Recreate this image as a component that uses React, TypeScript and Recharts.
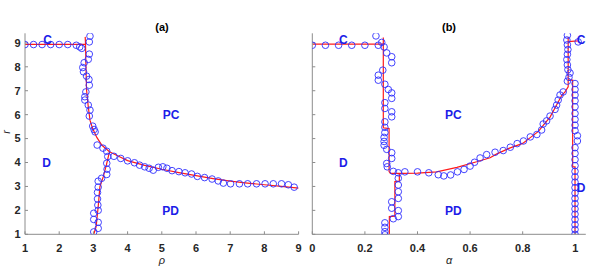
import { ComposedChart, Line, Scatter, XAxis, YAxis, ReferenceDot } from "recharts"

const BLUE = "#2f2fff"
const LABEL_BLUE = "#1c1ce8"
const RED = "#ff1a1a"
const AXIS = "#8c8c8c"
const TEXT = "#262626"
const FONT = "'Liberation Sans', Arial, sans-serif"

const Y_TICKS = [1, 2, 3, 4, 5, 6, 7, 8, 9]
const A_X_TICKS = [1, 2, 3, 4, 5, 6, 7, 8, 9]
const B_X_TICKS = [0, 0.2, 0.4, 0.6, 0.8, 1]

// ---- panel (a): r vs rho ----
const aMarkC = [[1, 8.93], [1.25, 8.93], [1.5, 8.93], [1.75, 8.93], [2.0, 8.93], [2.25, 8.93], [2.5, 8.9], [2.6, 8.83], [2.66, 8.77]]
const aMarkUpper = [
  [2.9, 9.28], [2.88, 9.04], [2.88, 8.53], [2.85, 8.31], [2.73, 8.17], [2.69, 7.97], [2.71, 7.79], [2.8, 7.61],
  [2.87, 7.47], [2.88, 7.23], [2.78, 6.95], [2.75, 6.75], [2.75, 6.61], [2.85, 6.4], [2.9, 6.19], [2.88, 5.94],
  [2.98, 5.52], [3.02, 5.38], [3.05, 5.28],
]
const aMarkLower = [
  [3.11, 4.73], [3.28, 4.6], [3.39, 4.47], [3.42, 4.25], [3.39, 3.97], [3.4, 3.72], [3.39, 3.5], [3.24, 3.34],
  [3.14, 3.22], [3.14, 2.97], [3.12, 2.75], [3.12, 2.48], [3.13, 2.22], [3.14, 2.0], [3.01, 1.88], [3.01, 1.62],
  [3.14, 1.5], [3.14, 1.25], [3.01, 1.1],
]
const aMarkCurve = [
  [3.6, 4.26], [3.8, 4.17], [4.0, 4.07], [4.2, 3.99], [4.35, 3.89], [4.5, 3.82], [4.63, 3.76], [4.75, 3.68],
  [4.9, 3.8], [5.03, 3.82], [5.15, 3.76], [5.3, 3.66], [5.5, 3.62], [5.68, 3.57], [5.87, 3.52], [6.04, 3.42],
  [6.25, 3.37], [6.47, 3.31], [6.65, 3.23], [6.8, 3.14], [7.01, 3.11], [7.27, 3.11], [7.51, 3.11], [7.77, 3.11],
  [8.02, 3.11], [8.26, 3.11], [8.5, 3.11], [8.7, 3.07], [8.87, 2.97],
]
const aRedC = [[1, 8.94], [2.77, 8.94]]
const aRedMain = [
  [2.76, 9.25], [2.77, 8.94], [2.78, 8.14], [2.8, 7.03], [2.85, 6.33], [2.9, 5.77], [2.97, 5.45], [3.1, 5.05],
  [3.25, 4.72], [3.47, 4.45], [3.75, 4.25], [4.0, 4.08], [4.5, 3.88], [5.0, 3.72], [5.5, 3.58], [6.0, 3.45],
  [6.5, 3.33], [7.0, 3.22], [7.5, 3.14], [8.0, 3.07], [8.5, 3.0], [9.0, 2.93],
]
const aRedLower = [[3.47, 4.45], [3.38, 3.9], [3.29, 3.41], [3.19, 2.99], [3.14, 2.15], [3.08, 1.32], [3.01, 1.0]]

// ---- panel (b): r vs alpha ----
const bMarkC = [[0, 8.9], [0.05, 8.9], [0.1, 8.9], [0.15, 8.9], [0.2, 8.9], [0.251, 8.9], [1.011, 9.04]]
const bMarkLeft = [
  [0.242, 9.29], [0.264, 9.02], [0.273, 8.83], [0.283, 8.58], [0.302, 8.42], [0.302, 8.17], [0.268, 7.86],
  [0.251, 7.65], [0.251, 7.44], [0.276, 7.27], [0.289, 7.05], [0.302, 6.91], [0.302, 6.68], [0.276, 6.5],
  [0.276, 6.26], [0.302, 6.12], [0.302, 5.91], [0.276, 5.7], [0.276, 5.47], [0.276, 5.25], [0.273, 5.05],
  [0.273, 4.88], [0.273, 4.72], [0.283, 4.55], [0.302, 4.41], [0.302, 4.17], [0.283, 3.96], [0.285, 3.82],
  [0.308, 3.63], [0.327, 3.57], [0.327, 3.34], [0.327, 3.06], [0.327, 2.78], [0.327, 2.5], [0.302, 2.36],
  [0.302, 2.09], [0.327, 1.99], [0.327, 1.74], [0.308, 1.65], [0.276, 1.48], [0.276, 1.29], [0.276, 1.11],
  [0.276, 0.98],
]
const bMarkCurve = [
  [0.352, 3.61], [0.4, 3.61], [0.443, 3.57], [0.479, 3.49], [0.5, 3.44], [0.526, 3.48], [0.552, 3.61],
  [0.577, 3.71], [0.6, 3.85], [0.617, 4.01], [0.638, 4.19], [0.663, 4.33], [0.695, 4.43], [0.726, 4.5],
  [0.753, 4.64], [0.779, 4.79], [0.803, 4.9], [0.829, 5.07], [0.854, 5.17], [0.872, 5.36], [0.878, 5.61],
  [0.891, 5.74], [0.904, 5.94], [0.923, 6.22], [0.929, 6.4], [0.935, 6.61], [0.942, 6.82], [0.954, 6.95],
]
const bMarkRightTop = [
  [0.97, 9.32], [0.968, 9.12], [0.97, 8.92], [0.972, 8.72], [0.97, 8.52], [0.968, 8.3], [0.97, 8.08],
  [0.972, 7.88], [0.98, 7.74], [0.976, 7.56], [0.97, 7.4],
]
const bMarkRightLow = [
  [0.999, 7.3], [0.999, 7.05], [0.999, 6.82], [0.999, 6.58], [0.999, 6.33], [0.999, 6.05], [0.999, 5.8],
  [0.999, 5.56], [0.999, 5.33], [1.008, 5.12], [1.008, 4.9], [0.999, 4.62], [0.999, 4.38], [0.999, 4.12],
  [0.999, 3.87], [0.999, 3.63], [0.999, 3.4], [0.999, 3.18], [0.999, 2.95], [0.999, 2.72], [0.999, 2.5],
  [0.999, 2.28], [0.999, 2.06], [0.999, 1.84], [0.999, 1.62], [0.999, 1.4], [0.999, 1.2], [0.999, 1.0],
]
const bRedC = [[0, 8.95], [0.27, 8.95]]
const bRedMain = [
  [0.27, 9.22], [0.27, 5.45], [0.292, 5.42], [0.292, 3.62], [0.297, 3.55], [0.34, 3.55], [0.4, 3.56],
  [0.473, 3.61], [0.55, 3.8], [0.625, 4.03], [0.676, 4.2], [0.7, 4.35], [0.75, 4.6], [0.8, 4.8], [0.83, 5.05],
  [0.86, 5.3], [0.878, 5.55], [0.904, 5.9], [0.929, 6.4], [0.948, 6.8], [0.961, 6.95], [0.973, 7.16], [0.973, 9.25],
]
const bRedTopC = [[0.973, 9.05], [1.01, 9.08]]
const bRedRight = [[0.973, 7.44], [0.99, 7.44], [0.99, 3.82], [0.999, 3.82], [0.999, 1.0]]
const bRedLower = [[0.331, 3.55], [0.331, 3.22], [0.314, 3.2], [0.314, 1.76], [0.293, 1.74], [0.293, 1.0]]

const aRegions = [["C", 1.66, 9.15], ["PC", 5.27, 5.98], ["D", 1.63, 3.99], ["PD", 5.26, 1.97]]
const bRegions = [["C", 0.118, 9.15], ["PC", 0.536, 5.98], ["D", 0.118, 3.99], ["PD", 0.536, 1.97], ["C", 1.022, 9.15], ["D", 1.022, 2.96]]

const pts = (a: number[][]) => a.map(([x, y]) => ({ x, y }))

const Ring = (p: any) => (
  <circle cx={p.cx} cy={p.cy} r={3.3} fill="none" stroke={BLUE} strokeWidth={0.9} />
)

const tickStyle = { fill: TEXT, fontSize: 11, fontWeight: "bold", fontFamily: FONT }
const blank = () => ""

function Panel({ width, yAxisWidth, rightMargin, xDomain, xTicks, title, titleX, xLabel, showYLabels, markers, lines, regions }: any) {
  return (
    <div style={{ position: "relative", width, height: 267 }}>
      <div
        style={{
          position: "absolute", left: titleX - 20, width: 40, top: 21, textAlign: "center",
          fontSize: 11, fontWeight: "bold", color: "#000", fontFamily: FONT, lineHeight: "13px",
        }}
      >
        {title}
      </div>
      <ComposedChart
        width={width}
        height={267}
        margin={{ top: 33.3, right: rightMargin, bottom: 0, left: 0 }}
        style={{ overflow: "visible" }}
      >
        <XAxis
          xAxisId="b"
          type="number"
          dataKey="x"
          domain={xDomain}
          ticks={xTicks}
          interval={0}
          allowDataOverflow
          height={32.7}
          tickSize={-3}
          tickMargin={12.5}
          stroke={AXIS}
          tick={tickStyle}
          label={{ value: xLabel, position: "insideBottom", offset: 3.5, fontSize: 11, fontStyle: "italic", fill: TEXT, fontFamily: FONT }}
        />
        <XAxis
          xAxisId="t"
          orientation="top"
          type="number"
          dataKey="x"
          domain={xDomain}
          ticks={xTicks}
          interval={0}
          allowDataOverflow
          height={0}
          tickSize={-3}
          stroke={AXIS}
          tickFormatter={blank}
        />
        <YAxis
          yAxisId="l"
          type="number"
          dataKey="y"
          domain={[1, 9.4]}
          ticks={Y_TICKS}
          interval={0}
          allowDataOverflow
          width={yAxisWidth}
          tickSize={-3}
          tickMargin={7.5}
          stroke={AXIS}
          tick={tickStyle}
          tickFormatter={showYLabels ? undefined : blank}
          label={showYLabels ? { value: "r", angle: -90, position: "insideLeft", offset: 6, fontSize: 11, fontStyle: "italic", fill: TEXT, fontFamily: FONT } : undefined}
        />
        <YAxis
          yAxisId="r"
          orientation="right"
          type="number"
          dataKey="y"
          domain={[1, 9.4]}
          ticks={Y_TICKS}
          interval={0}
          allowDataOverflow
          width={0}
          tickSize={-3}
          stroke={AXIS}
          tickFormatter={blank}
        />
        {markers.map((m: number[][], i: number) => (
          <Scatter key={"m" + i} xAxisId="b" yAxisId="l" data={pts(m)} shape={Ring} isAnimationActive={false} />
        ))}
        {lines.map((l: number[][], i: number) => (
          <Line
            key={"l" + i}
            xAxisId="b"
            yAxisId="l"
            data={pts(l)}
            dataKey="y"
            type="linear"
            stroke={RED}
            strokeWidth={1.2}
            dot={false}
            activeDot={false}
            isAnimationActive={false}
          />
        ))}
        {regions.map(([t, x, y]: any, i: number) => (
          <ReferenceDot
            key={"r" + i}
            xAxisId="b"
            yAxisId="l"
            x={x}
            y={y}
            r={0}
            fill="none"
            stroke="none"
            ifOverflow="visible"
            label={{ value: t, position: "center", fill: LABEL_BLUE, fontSize: 12, fontWeight: "bold", fontFamily: FONT }}
          />
        ))}
      </ComposedChart>
    </div>
  )
}

export default function App() {
  return (
    <div style={{ position: "absolute", left: 0, top: 0, width: 598, height: 267, background: "#fff", fontFamily: FONT }}>
      <div style={{ position: "absolute", left: 0, top: 0 }}>
        <Panel
          width={304}
          yAxisWidth={25}
          rightMargin={5.4}
          xDomain={[1, 9]}
          xTicks={A_X_TICKS}
          title="(a)"
          titleX={162}
          xLabel="ρ"
          showYLabels
          markers={[aMarkC, aMarkUpper, aMarkLower, aMarkCurve]}
          lines={[aRedC, aRedMain, aRedLower]}
          regions={aRegions}
        />
      </div>
      <div style={{ position: "absolute", left: 304, top: 0 }}>
        <Panel
          width={294}
          yAxisWidth={8.3}
          rightMargin={12.2}
          xDomain={[0, 1.04]}
          xTicks={B_X_TICKS}
          title="(b)"
          titleX={145}
          xLabel="α"
          showYLabels={false}
          markers={[bMarkC, bMarkLeft, bMarkCurve, bMarkRightTop, bMarkRightLow]}
          lines={[bRedC, bRedMain, bRedTopC, bRedRight, bRedLower]}
          regions={bRegions}
        />
      </div>
    </div>
  )
}
